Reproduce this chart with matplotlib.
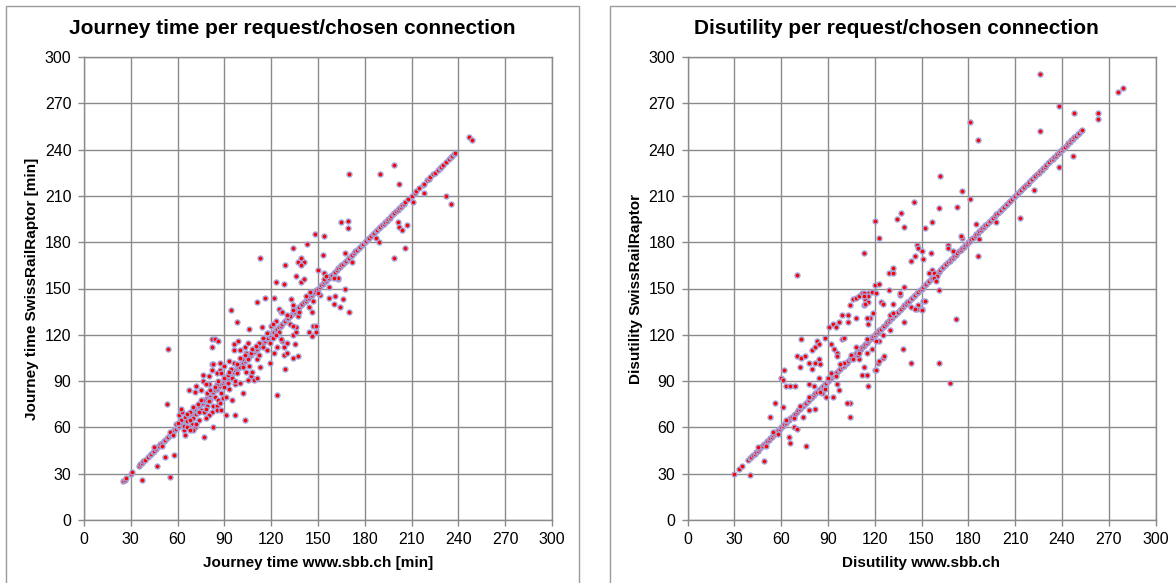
import matplotlib.pyplot as plt
from matplotlib.patches import Rectangle

plt.rcParams['font.family'] = ['Liberation Sans', 'DejaVu Sans']

# ---- journey time (left panel) ----
# requests where both planners return the same journey time [min]
jt_match = [25, 26, 27, 30, 31, 35, 36, 37, 38, 39, 41, 42, 43, 44, 45, 46, 47, 48, 49, 50,
            51, 52, 53, 54, 55, 56, 57, 58, 59, 60, 61, 62, 63, 64, 65, 66, 67, 68, 69, 70,
            71, 72, 73, 74, 75, 76, 77, 78, 79, 80, 81, 82, 83, 84, 85, 86, 87, 88, 89, 90,
            91, 92, 93, 94, 95, 96, 97, 98, 99, 100, 101, 102, 103, 104, 105, 106, 107, 108,
            109, 110, 111, 112, 113, 114, 115, 116, 117, 118, 119, 120, 121, 122, 123, 124,
            125, 126, 127, 128, 129, 130, 131, 132, 133, 134, 135, 136, 137, 138, 139, 140,
            141, 142, 143, 144, 145, 146, 147, 148, 149, 150, 151, 152, 153, 154, 155, 156,
            157, 158, 159, 160, 161, 162, 163, 164, 165, 166, 167, 168, 169, 170, 171, 172,
            173, 174, 175, 176, 177, 178, 179, 180, 181, 182, 183, 184, 185, 186, 187, 188,
            189, 190, 191, 192, 193, 194, 195, 196, 197, 198, 199, 200, 201, 202, 203, 204,
            205, 206, 208, 210, 212, 213, 215, 217, 218, 220, 221, 222, 224, 225, 227, 228,
            229, 230, 232, 234, 235, 236, 237, 238]
# requests where they differ: (www.sbb.ch, SwissRailRaptor)
jt_diff = [(37, 26), (47, 35), (52, 41), (55, 28), (58, 42), (53, 75), (54, 111), (59, 62),
           (65, 55), (77, 54), (83, 60), (97, 68), (103, 65), (124, 81),
           (61, 68), (63, 70), (65, 67), (62, 65), (66, 64), (68, 70), (70, 66), (72, 69),
           (69, 62), (71, 60), (74, 65), (64, 58), (67, 60), (70, 58), (72, 62), (75, 71),
           (76, 78), (73, 75), (77, 70), (79, 74), (81, 78), (83, 74), (85, 74), (82, 70),
           (80, 68), (78, 66), (84, 80), (86, 78), (88, 82), (89, 79), (91, 80), (95, 78),
           (93, 85), (90, 86), (87, 76), (85, 71), (88, 71), (91, 68),
           (67, 84), (71, 83), (72, 87), (75, 84), (76, 90), (76, 94), (80, 88), (80, 93),
           (82, 97), (82, 101), (83, 101), (87, 102), (87, 97), (82, 112), (82, 117), (84, 117),
           (86, 116), (78, 88), (85, 95), (90, 92), (92, 94), (94, 98), (96, 102), (96, 114),
           (99, 116), (96, 110), (100, 110), (98, 128), (94, 136), (106, 124), (111, 141),
           (116, 144), (122, 144), (125, 137), (104, 108), (105, 104),
           (97, 88), (100, 89), (102, 82), (105, 91), (107, 93), (109, 91), (111, 92), (100, 99),
           (104, 96), (107, 108), (111, 104), (113, 99), (119, 102), (122, 108), (128, 107),
           (129, 98), (134, 105), (137, 106), (124, 112), (127, 116), (130, 115), (135, 114),
           (126, 117), (128, 112), (130, 108), (134, 120), (136, 122),
           (120, 126), (123, 129), (132, 127), (136, 125), (126, 135), (134, 136), (127, 135),
           (132, 132), (137, 132), (134, 126), (114, 125), (121, 127), (113, 170), (123, 154),
           (128, 153), (129, 165), (136, 158), (139, 154), (141, 156), (137, 167), (141, 167),
           (139, 165), (139, 170), (134, 176), (143, 179), (148, 185), (154, 184), (165, 193),
           (169, 194), (169, 189), (153, 172), (167, 173), (172, 167),
           (144, 122), (147, 126), (149, 126), (149, 122), (146, 119), (144, 138), (147, 142),
           (146, 135), (157, 144), (161, 145), (160, 140), (164, 138), (170, 135), (166, 143),
           (157, 151), (163, 156), (167, 150), (151, 146), (150, 162), (154, 160), (154, 156),
           (163, 157), (133, 143), (134, 139),
           (199, 170), (206, 176), (201, 193), (202, 190), (204, 188), (207, 191), (187, 183),
           (189, 180), (211, 206), (218, 212), (232, 210), (235, 205), (170, 224), (190, 224),
           (199, 230), (202, 218), (247, 248), (249, 246),
           (45, 47), (50, 48), (55, 57), (57, 55), (60, 63), (68, 65), (75, 78), (80, 77),
           (85, 88), (92, 89), (98, 101), (102, 99), (108, 111), (115, 112), (118, 121),
           (125, 122), (130, 133), (138, 135), (142, 145), (150, 147), (155, 158), (160, 157),
           (64, 61), (66, 69), (73, 70), (79, 82), (86, 90), (93, 96), (112, 115), (117, 121),
           (145, 148),
           (88, 95), (90, 100), (93, 103), (95, 92), (98, 95), (101, 104), (103, 107),
           (106, 100), (108, 96), (110, 113), (112, 107), (103, 112), (105, 115), (100, 105),
           (97, 90), (115, 118), (117, 110), (119, 115), (121, 118), (123, 120), (66, 60),
           (68, 58), (74, 70), (78, 72), (62, 72), (70, 73), (81, 84), (84, 86)]

# ---- disutility (right panel) ----
du_match = [30, 33, 35, 39, 40, 41, 42, 43, 44, 45, 46, 47, 48, 49, 50, 51, 52, 53, 54, 55,
            56, 57, 58, 59, 60, 61, 62, 63, 64, 65, 66, 67, 68, 69, 70, 71, 72, 73, 74, 75,
            76, 77, 78, 79, 80, 81, 82, 83, 84, 85, 86, 87, 88, 89, 90, 91, 92, 93, 94, 95,
            96, 97, 98, 99, 100, 101, 102, 103, 104, 105, 106, 107, 108, 109, 110, 111, 112,
            113, 114, 115, 116, 117, 118, 119, 120, 121, 122, 123, 124, 125, 126, 127, 128,
            129, 130, 131, 132, 133, 134, 135, 136, 137, 138, 139, 140, 141, 142, 143, 144,
            145, 146, 147, 148, 149, 150, 151, 152, 153, 154, 155, 156, 157, 158, 159, 160,
            161, 162, 163, 164, 165, 166, 167, 168, 169, 170, 171, 172, 173, 174, 175, 176,
            177, 178, 179, 180, 181, 182, 183, 184, 185, 186, 187, 188, 189, 190, 191, 192,
            193, 194, 195, 196, 197, 198, 199, 200, 201, 202, 203, 204, 205, 206, 207, 208,
            209, 210, 211, 212, 213, 214, 215, 216, 217, 218, 219, 220, 221, 222, 223, 224,
            225, 226, 227, 228, 229, 230, 231, 232, 233, 234, 235, 236, 237, 238, 239, 240,
            241, 242, 243, 244, 245, 246, 247, 248, 249, 250, 251, 252, 253]
du_diff = [(40, 29), (49, 38), (53, 67), (56, 76), (61, 73), (66, 50), (65, 54), (68, 60),
           (70, 59), (74, 67), (76, 48), (78, 71), (82, 72), (70, 159), (60, 92), (61, 91),
           (62, 97), (63, 87), (66, 87), (69, 87), (70, 106), (72, 99), (73, 105), (75, 106),
           (78, 102), (73, 117), (80, 110), (82, 112), (83, 116), (84, 114), (84, 104),
           (82, 102), (85, 101), (80, 98), (78, 88), (81, 87), (84, 92), (87, 84), (89, 80),
           (93, 80),
           (88, 118), (92, 114), (94, 111), (96, 108), (96, 106), (99, 117), (100, 118),
           (91, 125), (93, 127), (95, 125), (97, 128), (99, 133), (103, 133), (108, 131),
           (103, 128), (104, 139), (106, 143), (108, 144), (110, 145), (112, 147), (114, 143),
           (116, 141), (113, 139), (116, 147), (117, 131), (115, 131), (116, 127), (119, 134),
           (118, 111), (115, 108), (110, 104), (109, 107), (108, 112), (112, 94), (115, 94),
           (113, 99), (116, 87), (120, 97), (122, 102), (125, 105), (104, 76), (104, 67),
           (102, 76), (96, 88), (97, 84), (86, 82), (88, 85),
           (113, 173), (120, 194), (123, 183), (120, 152), (123, 153), (113, 147), (116, 145),
           (113, 145), (118, 148), (121, 147), (114, 140), (124, 141), (125, 140), (139, 151),
           (129, 149), (129, 160), (132, 160), (132, 163), (136, 146), (137, 199), (134, 195),
           (139, 190), (145, 206), (152, 189), (157, 193), (161, 202), (162, 223), (173, 203),
           (176, 213), (181, 208), (185, 192), (176, 183), (175, 184), (167, 178), (167, 176),
           (170, 174), (147, 178), (148, 176), (150, 174), (146, 171), (143, 168), (151, 169),
           (156, 173), (157, 162), (155, 160), (158, 160), (160, 158), (158, 157), (159, 155),
           (161, 149), (148, 139), (147, 137), (150, 137), (151, 142), (132, 140), (136, 147),
           (130, 133), (130, 123), (139, 128), (132, 134),
           (138, 111), (143, 102), (143, 138), (146, 137), (152, 142), (150, 136), (161, 102),
           (168, 89), (172, 130), (125, 120), (123, 116), (121, 116), (123, 103), (126, 106),
           (121, 97),
           (187, 182), (186, 171), (198, 193), (213, 196), (222, 214), (238, 229), (247, 236),
           (226, 252), (238, 268), (226, 289), (248, 264), (263, 264), (263, 260), (181, 258),
           (186, 246), (276, 277), (279, 280),
           (45, 47), (50, 48), (55, 57), (58, 56), (63, 65), (68, 66), (72, 74), (78, 80),
           (85, 83), (90, 92), (95, 93), (100, 102), (105, 107), (110, 108), (115, 117),
           (92, 95), (98, 101), (106, 104)]

ticks = [0, 30, 60, 90, 120, 150, 180, 210, 240, 270, 300]

W, H = 1176, 583
fig = plt.figure(figsize=(W / 100, H / 100), dpi=100)

# chart-area frames (Excel-like)
fig.patches.append(Rectangle((6 / W, -0.02), 573 / W, 1.02 - 6 / H, transform=fig.transFigure,
                             fill=False, edgecolor='#9c9c9c', linewidth=1.0))
fig.patches.append(Rectangle((610 / W, -0.02), 0.5, 1.02 - 6 / H, transform=fig.transFigure,
                             fill=False, edgecolor='#9c9c9c', linewidth=1.0))

panels = [
    (84, jt_match, jt_diff, 'Journey time per request/chosen connection', 292,
     'Journey time www.sbb.ch [min]', 'Journey time SwissRailRaptor [min]'),
    (687.5, du_match, du_diff, 'Disutility per request/chosen connection', 896,
     'Disutility www.sbb.ch', 'Disutility SwissRailRaptor'),
]

for left, match, diff, title, tx, xl, yl in panels:
    ax = fig.add_axes([left / W, 1 - 520 / H, 468 / W, 463 / H])
    ax.set_xlim(0, 300)
    ax.set_ylim(0, 300)
    ax.set_xticks(ticks)
    ax.set_yticks(ticks)
    ax.grid(True, color='#8a8a8a', linewidth=1.0)
    ax.set_axisbelow(True)
    for sp in ax.spines.values():
        sp.set_color('#8a8a8a')
        sp.set_linewidth(1.0)
    ax.tick_params(colors='#8a8a8a', labelcolor='black', labelsize=11.5, length=4, width=1, pad=5)
    xs = match + [p[0] for p in diff]
    ys = match + [p[1] for p in diff]
    ax.scatter(xs, ys, s=13, c='#ff0000', edgecolors='#a4a4dc', linewidths=1.0,
               zorder=3, clip_on=False)
    ax.set_xlabel(xl, fontsize=11, fontweight='bold', labelpad=6)
    ax.set_ylabel(yl, fontsize=11, fontweight='bold')
    fig.text(tx / W, 1 - 28 / H, title, ha='center', va='center', fontsize=15, fontweight='bold')

fig.savefig('out.png', dpi=100)
